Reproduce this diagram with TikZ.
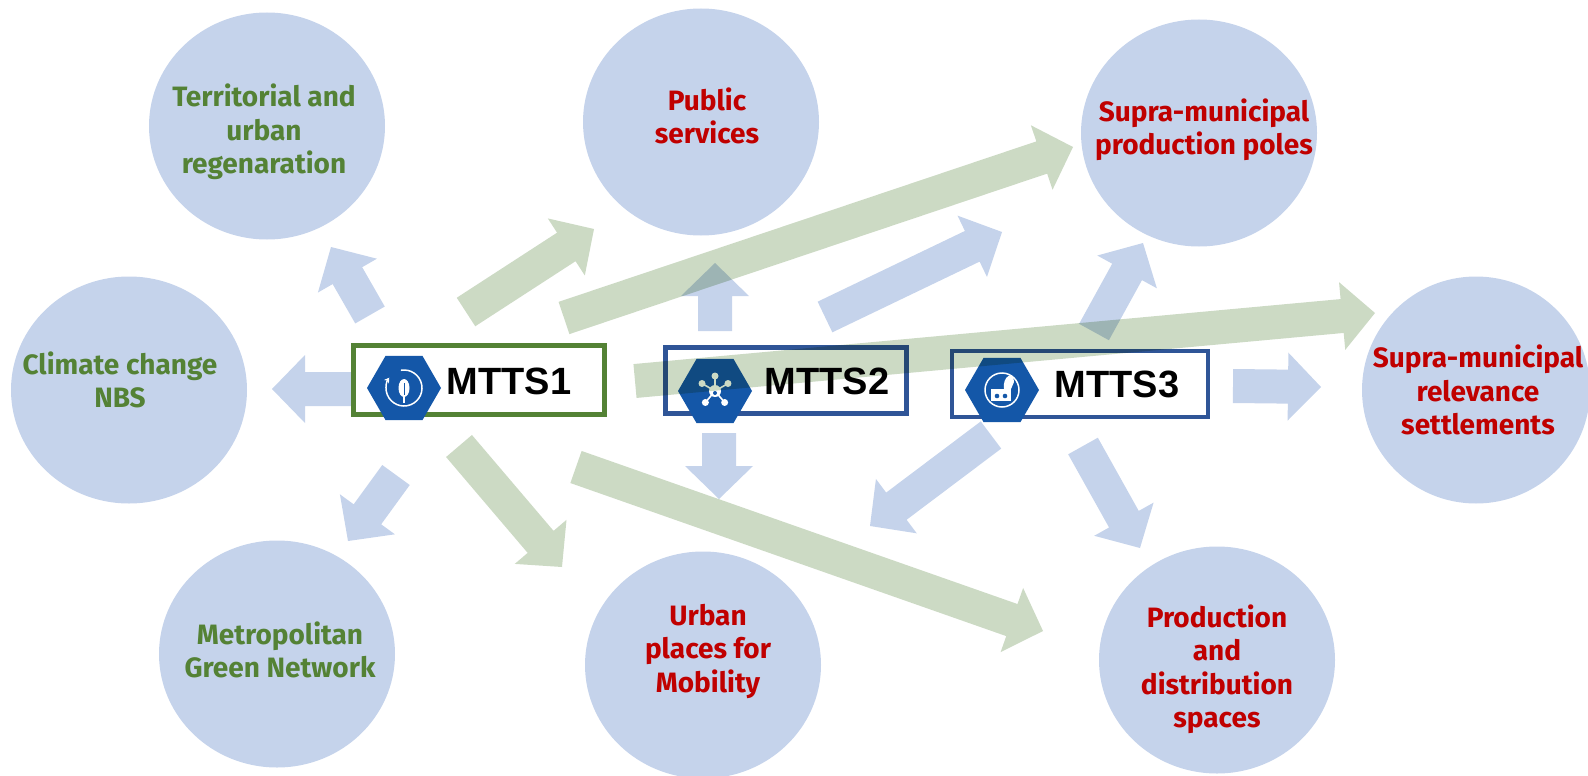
\documentclass[tikz,border=0pt]{standalone}
\usepackage{fontspec}
\newfontfamily\topicfont{Fira Sans}
\newfontfamily\mttsfont{Liberation Sans}
\usetikzlibrary{shapes.geometric,calc,arrows.meta}
\definecolor{circblue}{HTML}{C5D3EB}
\definecolor{arrblue}{HTML}{C5D3EB}
\definecolor{arrgreen}{RGB}{204,218,196}
\definecolor{txtgreen}{HTML}{548235}
\definecolor{txtred}{HTML}{C00000}
\definecolor{boxblue}{HTML}{2F5597}
\definecolor{iconblue}{HTML}{1457A8}
% block arrow from tail #2 to tip #3
\newcommand\blockarrow[3]{%
  \path ($(#3)!33pt!(#2)$) coordinate (hb);
  \fill[#1] ($(#2)!17pt!90:(#3)$) -- ($(hb)!17pt!90:(#3)$) -- ($(hb)!34pt!90:(#3)$)
    -- (#3) -- ($(hb)!34pt!-90:(#3)$) -- ($(hb)!17pt!-90:(#3)$) -- ($(#2)!17pt!-90:(#3)$) -- cycle;}
\begin{document}
\begin{tikzpicture}
		[x=1pt,y=-1pt,
		 topic/.style={ellipse,fill=circblue,minimum width=236pt,minimum height=227pt,inner sep=0pt},
		 greentext/.style={align=center,text=txtgreen,font=\topicfont\bfseries\fontsize{28}{33.5}\selectfont},
		 redtext/.style={greentext,text=txtred},
		 mttsbox/.style={draw,fill=white,line width=5pt,inner sep=0pt},
		 hexicon/.style={regular polygon,regular polygon sides=6,minimum size=74pt,fill=iconblue,inner sep=0pt},
		 mttslabel/.style={font=\mttsfont\bfseries\fontsize{38}{40}\selectfont},
		 bluearrow/.style={fill=arrblue,blend mode=multiply},
		 greenarrow/.style={fill=arrgreen,blend mode=multiply}]
		\useasboundingbox (0,0) rectangle (1588,776);

		% draw the topic circles
		\node[topic] (terr) at (267,126) {};
		\node[topic] (pub) at (701,122) {};
		\node[topic] (poles) at (1199,133) {};
		\node[topic] (nbs) at (129,390) {};
		\node[topic,minimum width=228pt] (settl) at (1476,390) {};
		\node[topic] (green) at (277,654) {};
		\node[topic] (mob) at (703,665) {};
		\node[topic] (prod) at (1217,660) {};

		% the topic texts
		\node[greentext] (terr-t) at (264,132) {Territorial and\\urban\\regenaration};
		\node[redtext] (pub-t) at (707,116) {Public\\services};
		\node[redtext] (poles-t) at (1204,130) {Supra-municipal\\production poles};
		\node[greentext] (nbs-t) at (120,380) {Climate change\\NBS};
		\node[redtext] (settl-t) at (1478,390) {Supra-municipal\\relevance\\settlements};
		\node[greentext] (green-t) at (280,650) {Metropolitan\\Green Network};
		\node[redtext] (mob-t) at (708,651) {Urban\\places for\\Mobility};
		\node[redtext] (prod-t) at (1217,669) {Production\\and\\distribution\\spaces};

		% arrow ends
		\coordinate (m1-nbs-s) at (362,389);   \coordinate (m1-nbs-e) at (272,389);
		\coordinate (m1-terr-s) at (370,315);  \coordinate (m1-terr-e) at (331,247);
		\coordinate (m1-green-s) at (396,475); \coordinate (m1-green-e) at (348,541);
		\coordinate (m2-pub-s) at (715,331);   \coordinate (m2-pub-e) at (715,263);
		\coordinate (m2-mob-s) at (719,433);   \coordinate (m2-mob-e) at (719,499);
		\coordinate (m2-poles-s) at (825,317); \coordinate (m2-poles-e) at (1002,232);
		\coordinate (m3-poles-s) at (1094,332); \coordinate (m3-poles-e) at (1143,243);
		\coordinate (m3-settl-s) at (1233,386); \coordinate (m3-settl-e) at (1321,387);
		\coordinate (m3-mob-s) at (991,435);   \coordinate (m3-mob-e) at (870,526);
		\coordinate (m3-prod-s) at (1083,446); \coordinate (m3-prod-e) at (1140,548);
		\coordinate (m1-pub-s) at (466,312);   \coordinate (m1-pub-e) at (594,229);
		\coordinate (m1-poles-s) at (564,318); \coordinate (m1-poles-e) at (1073,147);
		\coordinate (m1-settl-s) at (635,381); \coordinate (m1-settl-e) at (1375,313);
		\coordinate (m1-mob-s) at (459,446);   \coordinate (m1-mob-e) at (562,567);
		\coordinate (m1-prod-s) at (576,467);  \coordinate (m1-prod-e) at (1043,631);

		% arrow behind the first box
		\blockarrow{bluearrow}{m1-nbs-s}{m1-nbs-e}

		% draw the MTTS boxes
		\node[mttsbox,draw=txtgreen,minimum width=251pt,minimum height=69pt] (m1) at (478.5,379.5) {};
		\node[mttsbox,draw=boxblue,line width=4.5pt,minimum width=241pt,minimum height=66pt] (m2) at (786,380.5) {};
		\node[mttsbox,draw=boxblue,line width=4.5pt,minimum width=256pt,minimum height=66pt] (m3) at (1080,384) {};
		\node[hexicon] (h1) at (404,388) {};
		\node[hexicon] (h2) at (715,391) {};
		\node[hexicon] (h3) at (1002,390) {};
		\node[mttslabel] (t1) at (509,381) {MTTS1};
		\node[mttslabel] (t2) at (827,381) {MTTS2};
		\node[mttslabel] (t3) at (1117,384) {MTTS3};

		% icons
		\draw[white,line width=1.5pt,-{Stealth[length=5pt,width=6pt]}] ($(h1.center)+(-100:18)$) arc[start angle=-100,end angle=215,radius=18];
		\fill[white] (h1.center) ellipse (5.5 and 9);
		\draw[white,line width=1.3pt] ($(h1.center)+(0,5)$) -- ($(h1.center)+(0,15)$);
		\draw[iconblue,line width=0.8pt] ($(h1.center)+(0,-5)$) -- ($(h1.center)+(0,7)$);
		\draw[white,line width=1.6pt] (h2.center) -- +(-150:15) (h2.center) -- +(-90:15) (h2.center) -- +(-30:15)
			(h2.center) -- +(50:15) (h2.center) -- +(130:15);
		\fill[white] (h2.center) circle (6) ($(h2.center)+(-150:15)$) circle (3.5) ($(h2.center)+(-90:15)$) circle (3.5)
			($(h2.center)+(-30:15)$) circle (3.5) ($(h2.center)+(50:15)$) circle (3.5) ($(h2.center)+(130:15)$) circle (3.5);
		\fill[iconblue] ($(h2.center)+(0,2)$) circle (2);
		\draw[white,line width=1.5pt] (h3.center) circle (17);
		\fill[white] ($(h3.center)+(-11,-1)$) rectangle ($(h3.center)+(9,11)$);
		\fill[white] ($(h3.center)+(2,-1)$) .. controls ($(h3.center)+(0,-14)$) and ($(h3.center)+(12,-20)$) .. ($(h3.center)+(12,-8)$) -- ($(h3.center)+(9,-1)$) -- cycle;
		\fill[iconblue] ($(h3.center)+(-5,6)$) circle (2.3) ($(h3.center)+(3,6)$) circle (2.3);

		% draw the green arrows
		\blockarrow{greenarrow}{m1-pub-s}{m1-pub-e}
		\blockarrow{greenarrow}{m1-poles-s}{m1-poles-e}
		\blockarrow{greenarrow}{m1-settl-s}{m1-settl-e}
		\blockarrow{greenarrow}{m1-mob-s}{m1-mob-e}
		\blockarrow{greenarrow}{m1-prod-s}{m1-prod-e}

		% draw the blue arrows
		\blockarrow{bluearrow}{m1-terr-s}{m1-terr-e}
		\blockarrow{bluearrow}{m1-green-s}{m1-green-e}
		\blockarrow{bluearrow}{m2-pub-s}{m2-pub-e}
		\blockarrow{bluearrow}{m2-mob-s}{m2-mob-e}
		\blockarrow{bluearrow}{m2-poles-s}{m2-poles-e}
		\blockarrow{bluearrow}{m3-poles-s}{m3-poles-e}
		\blockarrow{bluearrow}{m3-settl-s}{m3-settl-e}
		\blockarrow{bluearrow}{m3-mob-s}{m3-mob-e}
		\blockarrow{bluearrow}{m3-prod-s}{m3-prod-e}
	\end{tikzpicture}
\end{document}
